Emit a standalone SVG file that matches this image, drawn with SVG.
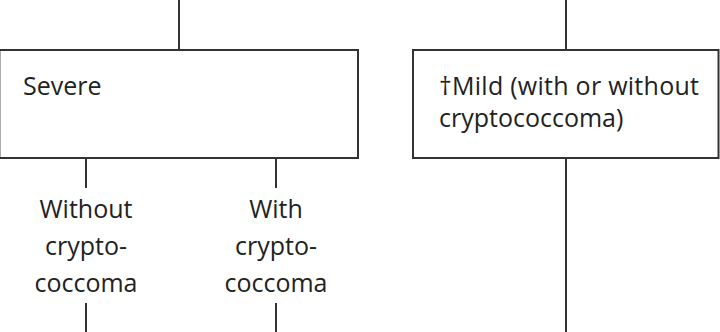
<svg xmlns="http://www.w3.org/2000/svg" width="720" height="332" viewBox="0 0 720 332">
  <style>
    .box { fill: #ffffff; stroke: #333333; stroke-width: 2; }
    .wire { stroke: #333333; stroke-width: 2; fill: none; }
    .label { font-family: "Open Sans", "Noto Sans", sans-serif; font-size: 25px; fill: #222222; }
    .mid { text-anchor: middle; }
  </style>
  <rect width="720" height="332" fill="#ffffff"/>

  <!-- connectors -->
  <g id="connectors">
    <line class="wire" x1="179" y1="0" x2="179" y2="50"/>
    <line class="wire" x1="566" y1="0" x2="566" y2="50"/>
    <line class="wire" x1="566" y1="158" x2="566" y2="332"/>
    <line class="wire" x1="86" y1="158" x2="86" y2="188"/>
    <line class="wire" x1="276" y1="158" x2="276" y2="188"/>
    <line class="wire" x1="86" y1="303" x2="86" y2="332"/>
    <line class="wire" x1="276" y1="303" x2="276" y2="332"/>
  </g>

  <g id="severe">
    <rect class="box" x="-0.6" y="50" width="358.6" height="108"/>
    <text class="label" x="23" y="95">Severe</text>
  </g>

  <g id="mild">
    <rect class="box" x="413" y="50" width="305.5" height="108"/>
    <text class="label" x="439" y="95" textLength="260" lengthAdjust="spacing">†Mild (with or without</text>
    <text class="label" x="439" y="127">cryptococcoma)</text>
  </g>

  <g id="without-cryptococcoma">
    <text class="label mid" x="86" y="218">Without</text>
    <text class="label mid" x="86" y="255">crypto-</text>
    <text class="label mid" x="86" y="292">coccoma</text>
  </g>

  <g id="with-cryptococcoma">
    <text class="label mid" x="276" y="218">With</text>
    <text class="label mid" x="276" y="255">crypto-</text>
    <text class="label mid" x="276" y="292">coccoma</text>
  </g>
</svg>
